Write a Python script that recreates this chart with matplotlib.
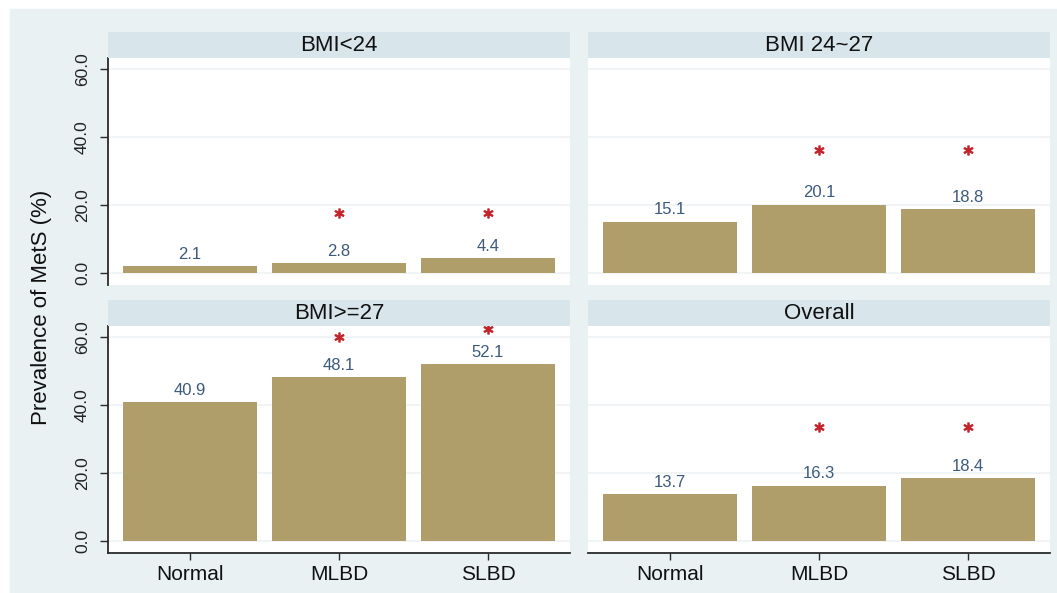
import matplotlib
matplotlib.use("Agg")
import matplotlib.pyplot as plt
from matplotlib.patches import Rectangle

plt.rcParams['font.family'] = ['Liberation Sans', 'DejaVu Sans']

groups = ["Normal", "MLBD", "SLBD"]
panel_titles = ["BMI<24", "BMI 24~27", "BMI>=27", "Overall"]
prevalence = [
    [2.1, 2.8, 4.4],
    [15.1, 20.1, 18.8],
    [40.9, 48.1, 52.1],
    [13.7, 16.3, 18.4],
]
# height of the significance asterisks (None = no asterisk)
star_y = [
    [None, 17.6, 17.6],
    [None, 36.2, 36.2],
    [None, 60.0, 62.4],
    [None, 33.5, 33.5],
]
yticks = [0, 20, 40, 60]

W, H = 1057, 593
bar_color = "#af9e6a"
label_color = "#3b5a7c"
star_color = "#c3232b"
outer_bg = "#eaf1f3"
strip_bg = "#d8e5ea"
grid_color = "#edf2f5"
axis_color = "#2a2a2a"

fig = plt.figure(figsize=(W / 100, H / 100), dpi=100)
fig.patch.set_facecolor("white")
fig.patches.append(Rectangle((10 / W, 0), 1 - 10 / W, 1 - 9 / H,
                             transform=fig.transFigure, color=outer_bg, zorder=-10))

# panel boxes in pixels: left, top, right, bottom of plot region
boxes = [(108, 58, 570, 285), (588, 58, 1050, 285),
         (108, 326, 570, 553), (588, 326, 1050, 553)]
strip_h = 26


def fig_rect(l, t, r, b):
    return [l / W, 1 - b / H, (r - l) / W, (b - t) / H]


for i, (l, t, r, b) in enumerate(boxes):
    ax = fig.add_axes(fig_rect(l, t, r, b))
    ax.set_facecolor("white")
    xs = range(len(groups))
    bars = ax.bar(xs, prevalence[i], width=0.9, color=bar_color, zorder=2)
    for x, v in zip(xs, prevalence[i]):
        ax.annotate(f"{v:.1f}", (x, v), xytext=(0, 3.0), textcoords="offset points",
                    ha="center", va="bottom", fontsize=12, color=label_color)
    for x, s in zip(xs, star_y[i]):
        if s is not None:
            ax.plot(x, s, marker="$*$", markersize=6.5, color=star_color,
                    linestyle="none", zorder=3)
    ax.set_xlim(-0.55, 2.55)
    ax.set_ylim(-3.53, 63.24)
    ax.set_yticks(yticks)
    ax.grid(axis="y", color=grid_color, linewidth=1.2, zorder=0)
    ax.set_axisbelow(True)
    for sp in ax.spines.values():
        sp.set_visible(False)

    left_col = i % 2 == 0
    bottom_row = i >= 2
    if left_col:
        ax.spines["left"].set_visible(True)
        ax.spines["left"].set_color(axis_color)
        ax.spines["left"].set_linewidth(1.3)
        ax.set_yticklabels([f"{v:.1f}" for v in yticks])
        ax.tick_params(axis="y", length=6, width=1.0, color=axis_color, pad=7,
                       labelsize=12.5, labelrotation=90, labelcolor="#222222")
        for lab in ax.get_yticklabels():
            lab.set_va("center")
    else:
        ax.tick_params(axis="y", left=False, labelleft=False)

    if bottom_row:
        ax.spines["bottom"].set_visible(True)
        ax.spines["bottom"].set_color(axis_color)
        ax.spines["bottom"].set_linewidth(1.3)
        ax.set_xticks(list(xs))
        ax.set_xticklabels(groups)
        ax.tick_params(axis="x", length=5, width=1.0, color=axis_color, pad=4,
                       labelsize=15, labelcolor="#111111")
    else:
        ax.tick_params(axis="x", bottom=False, labelbottom=False)

    sax = fig.add_axes(fig_rect(l, t - strip_h, r, t))
    sax.set_facecolor(strip_bg)
    sax.set_xticks([])
    sax.set_yticks([])
    for sp in sax.spines.values():
        sp.set_visible(False)
    sax.text(0.5, 0.48, panel_titles[i], ha="center", va="center",
             fontsize=16, color="#111111", transform=sax.transAxes)

fig.text(42 / W, 1 - 307 / H, "Prevalence of MetS (%)", rotation=90,
         ha="center", va="center", fontsize=16, color="#111111")

fig.savefig("out.png", dpi=100)
